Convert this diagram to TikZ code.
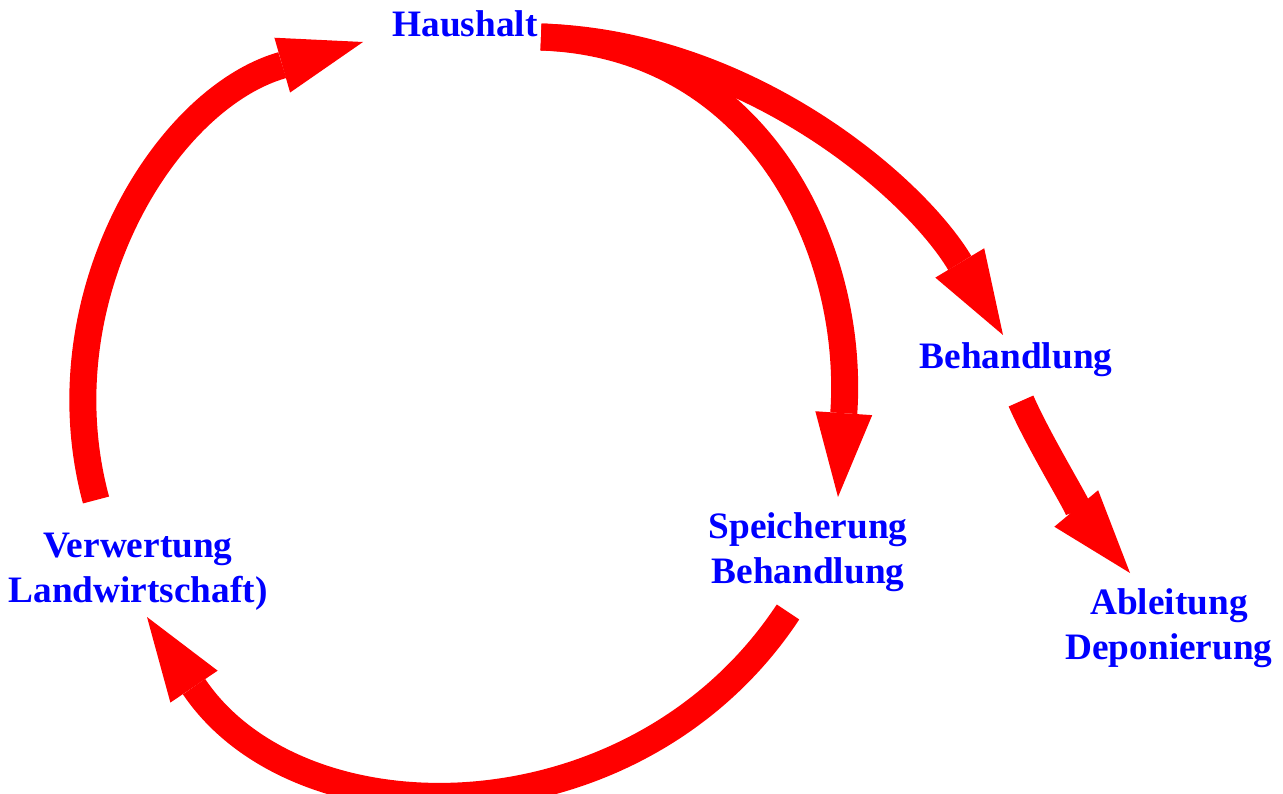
\documentclass[tikz,border=0pt]{standalone}
\usepackage{fontspec}
\setmainfont{Liberation Serif}
\usetikzlibrary{arrows.meta}
\begin{document}
\begin{tikzpicture}[x=1pt,y=-1pt,
  lbl/.style={text=blue, font=\fontsize{37.3}{45}\selectfont\bfseries, inner sep=0pt, align=center, anchor=base},
  flow/.style={draw=red, line width=27pt, line cap=butt,
    -{Triangle[length=84pt,width=57pt,line width=0pt]}}]
\useasboundingbox (0,0) rectangle (1283,794);
\node[lbl] (haus) at (465,37) {Haushalt};
\node[lbl] (beh) at (1016,369) {Behandlung};
\node[lbl] (spei) at (808,583) {Speicherung\\Behandlung};
\node[lbl] (verw) at (138,602) {Verwertung\\Landwirtschaft)};
\node[lbl] (abl) at (1169,659) {Ableitung\\Deponierung};
% Verwertung -> Haushalt
\draw[flow] ([shift={(-42,-102)}]verw.base) .. controls +(-54,-200) and +(-199,57) .. ([shift={(-102,5)}]haus.base);
% Haushalt -> Speicherung
\draw[flow] ([shift={(76,0)}]haus.base) .. controls +(219,8) and +(17,-247) .. ([shift={(30,-86)}]spei.base);
% Haushalt -> Behandlung
\draw[flow] ([shift={(76,0)}]haus.base) .. controls +(205,6) and +(-90,-150) .. ([shift={(-13,-34)}]beh.base);
% Behandlung -> Ableitung
\draw[flow] ([shift={(5,32)}]beh.base) .. controls +(19,44) and +(-40,-48) .. ([shift={(-39,-86)}]abl.base);
% Speicherung -> Verwertung
\draw[flow] ([shift={(-20,29)}]spei.base) .. controls +(-152,230) and +(154,228) .. ([shift={(9,15)}]verw.base);
\end{tikzpicture}
\end{document}
